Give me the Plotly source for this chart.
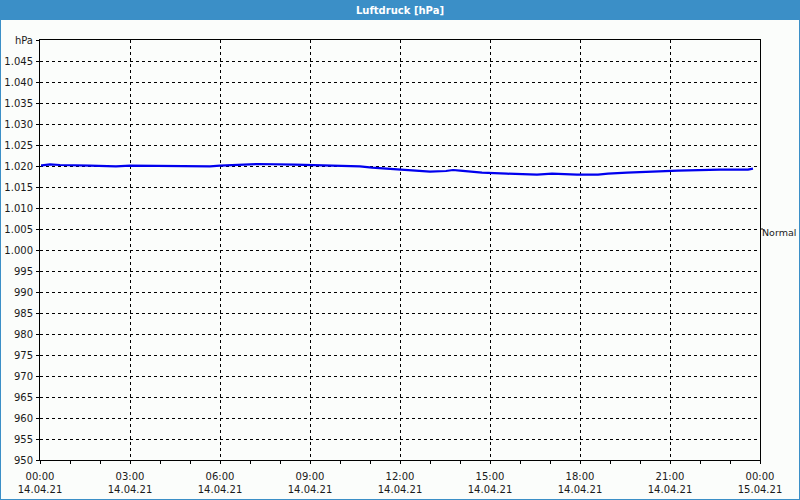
import plotly.graph_objects as go

# ---- data ----
day = "2021-04-14"
times = ["00:02", "00:04", "00:20", "00:40", "01:40", "02:32", "03:00", "04:30", "05:40",
         "06:00", "06:34", "07:16", "08:30", "09:32", "10:10", "10:40", "11:04", "11:36",
         "12:00", "12:24", "13:00", "13:32", "13:46", "14:00", "14:20", "14:44", "15:34",
         "16:34", "17:04", "17:54", "18:36", "18:56", "19:34", "20:20", "21:16", "22:40",
         "23:36", "23:46"]
pressure = [1020.17, 1020.17, 1020.40, 1020.24, 1020.07, 1019.93, 1020.07, 1019.93, 1019.93,
            1020.07, 1020.24, 1020.48, 1020.31, 1020.17, 1020.17, 1019.93, 1019.60, 1019.36,
            1019.12, 1018.88, 1018.64, 1018.81, 1019.05, 1018.88, 1018.64, 1018.40, 1018.17,
            1017.93, 1018.17, 1017.93, 1017.93, 1018.17, 1018.40, 1018.64, 1018.88, 1019.12,
            1019.12, 1019.36]

x_tick_vals = ["2021-04-14 00:00", "2021-04-14 03:00", "2021-04-14 06:00", "2021-04-14 09:00",
               "2021-04-14 12:00", "2021-04-14 15:00", "2021-04-14 18:00", "2021-04-14 21:00",
               "2021-04-15 00:00"]
x_tick_time = ["00:00", "03:00", "06:00", "09:00", "12:00", "15:00", "18:00", "21:00", "00:00"]
x_tick_date = ["14.04.21"] * 8 + ["15.04.21"]

y_tick_vals = list(range(950, 1051, 5))
y_tick_text = ["950", "955", "960", "965", "970", "975", "980", "985", "990", "995",
               "1.000", "1.005", "1.010", "1.015", "1.020", "1.025", "1.030", "1.035",
               "1.040", "1.045", "hPa"]

title_text = "Luftdruck [hPa]"
normal_label = "Normal"
normal_value = 1005

# ---- figure ----
FONT = "DejaVu Sans"
TXT = "#1a1a1a"
BLUE = "#3B8FC7"
BG = "#FBFDFB"
FS = 10

W, H = 800, 500
L, R, T, B = 40, 40, 40, 40
PW, PH = W - L - R, H - T - B


def px_x(px):
    return (px - L) / PW


def px_y(py):
    return (H - B - py) / PH


x_data = [f"{day} {t}" for t in times]

fig = go.Figure()
fig.add_trace(go.Scatter(x=x_data, y=pressure, mode="lines",
                         line=dict(color="#0000EE", width=2.2),
                         hoverinfo="skip", showlegend=False))
# invisible trace for second axis
fig.add_trace(go.Scatter(x=[x_tick_vals[0]], y=[1000], xaxis="x2", mode="markers",
                         marker=dict(opacity=0), hoverinfo="skip", showlegend=False))

xrange = ["2021-04-14 00:00", "2021-04-15 00:00"]

fig.update_layout(
    width=W, height=H,
    margin=dict(l=L, r=R, t=T, b=B, autoexpand=False),
    paper_bgcolor=BG, plot_bgcolor=BG,
    font=dict(family=FONT, size=FS, color=TXT),
    xaxis=dict(
        type="date", range=xrange, automargin=False,
        tickmode="array", tickvals=x_tick_vals, ticktext=x_tick_time,
        ticks="outside", ticklen=3, tickcolor="black",
        showline=True, linecolor="black", linewidth=1, mirror=True,
        showgrid=True, gridcolor="black", gridwidth=1, griddash="3px,3px",
        minor=dict(dtick=3600000, ticks="outside", ticklen=3, tickcolor="black",
                   showgrid=False),
        zeroline=False,
        ticklabelstandoff=4,
    ),
    xaxis2=dict(
        type="date", range=xrange, overlaying="x", anchor="y", side="bottom",
        automargin=False,
        tickmode="array", tickvals=x_tick_vals, ticktext=x_tick_date,
        ticks="", showline=False, showgrid=False, zeroline=False,
        ticklabelstandoff=22,
    ),
    yaxis=dict(
        range=[950, 1050], automargin=False,
        tickmode="array", tickvals=y_tick_vals, ticktext=y_tick_text,
        ticks="outside", ticklen=3, tickcolor="black",
        showline=True, linecolor="black", linewidth=1, mirror=True,
        showgrid=True, gridcolor="black", gridwidth=1, griddash="3px,3px",
        zeroline=False,
        ticklabelstandoff=1,
    ),
)

shapes = []
# title bar
shapes.append(dict(type="rect", xref="paper", yref="paper",
                   x0=px_x(0), x1=px_x(W), y0=px_y(20), y1=px_y(0),
                   fillcolor=BLUE, line=dict(width=0), layer="above"))
# window border (left, right, bottom)
for (x0, y0, x1, y1) in [(0.5, 20, 0.5, H), (W - 0.5, 20, W - 0.5, H), (0, H - 0.5, W, H - 0.5)]:
    shapes.append(dict(type="line", xref="paper", yref="paper",
                       x0=px_x(x0), x1=px_x(x1), y0=px_y(y0), y1=px_y(y1),
                       line=dict(color=BLUE, width=1), layer="above"))
# "Normal" tick on right axis
shapes.append(dict(type="line", xref="paper", yref="y",
                   x0=1, x1=px_x(L + PW + 3), y0=normal_value, y1=normal_value,
                   line=dict(color="black", width=1)))
fig.update_layout(shapes=shapes)

fig.add_annotation(text=f"<b>{title_text}</b>", xref="paper", yref="paper",
                   x=0.5, y=px_y(10), xanchor="center", yanchor="middle",
                   showarrow=False, font=dict(family=FONT, size=10, color="white"))
fig.add_annotation(text=normal_label, xref="paper", yref="y",
                   x=1, y=normal_value, xanchor="left", yanchor="middle", xshift=0, yshift=-3,
                   showarrow=False, font=dict(family=FONT, size=9.5, color=TXT))

fig.write_html("out.html")
